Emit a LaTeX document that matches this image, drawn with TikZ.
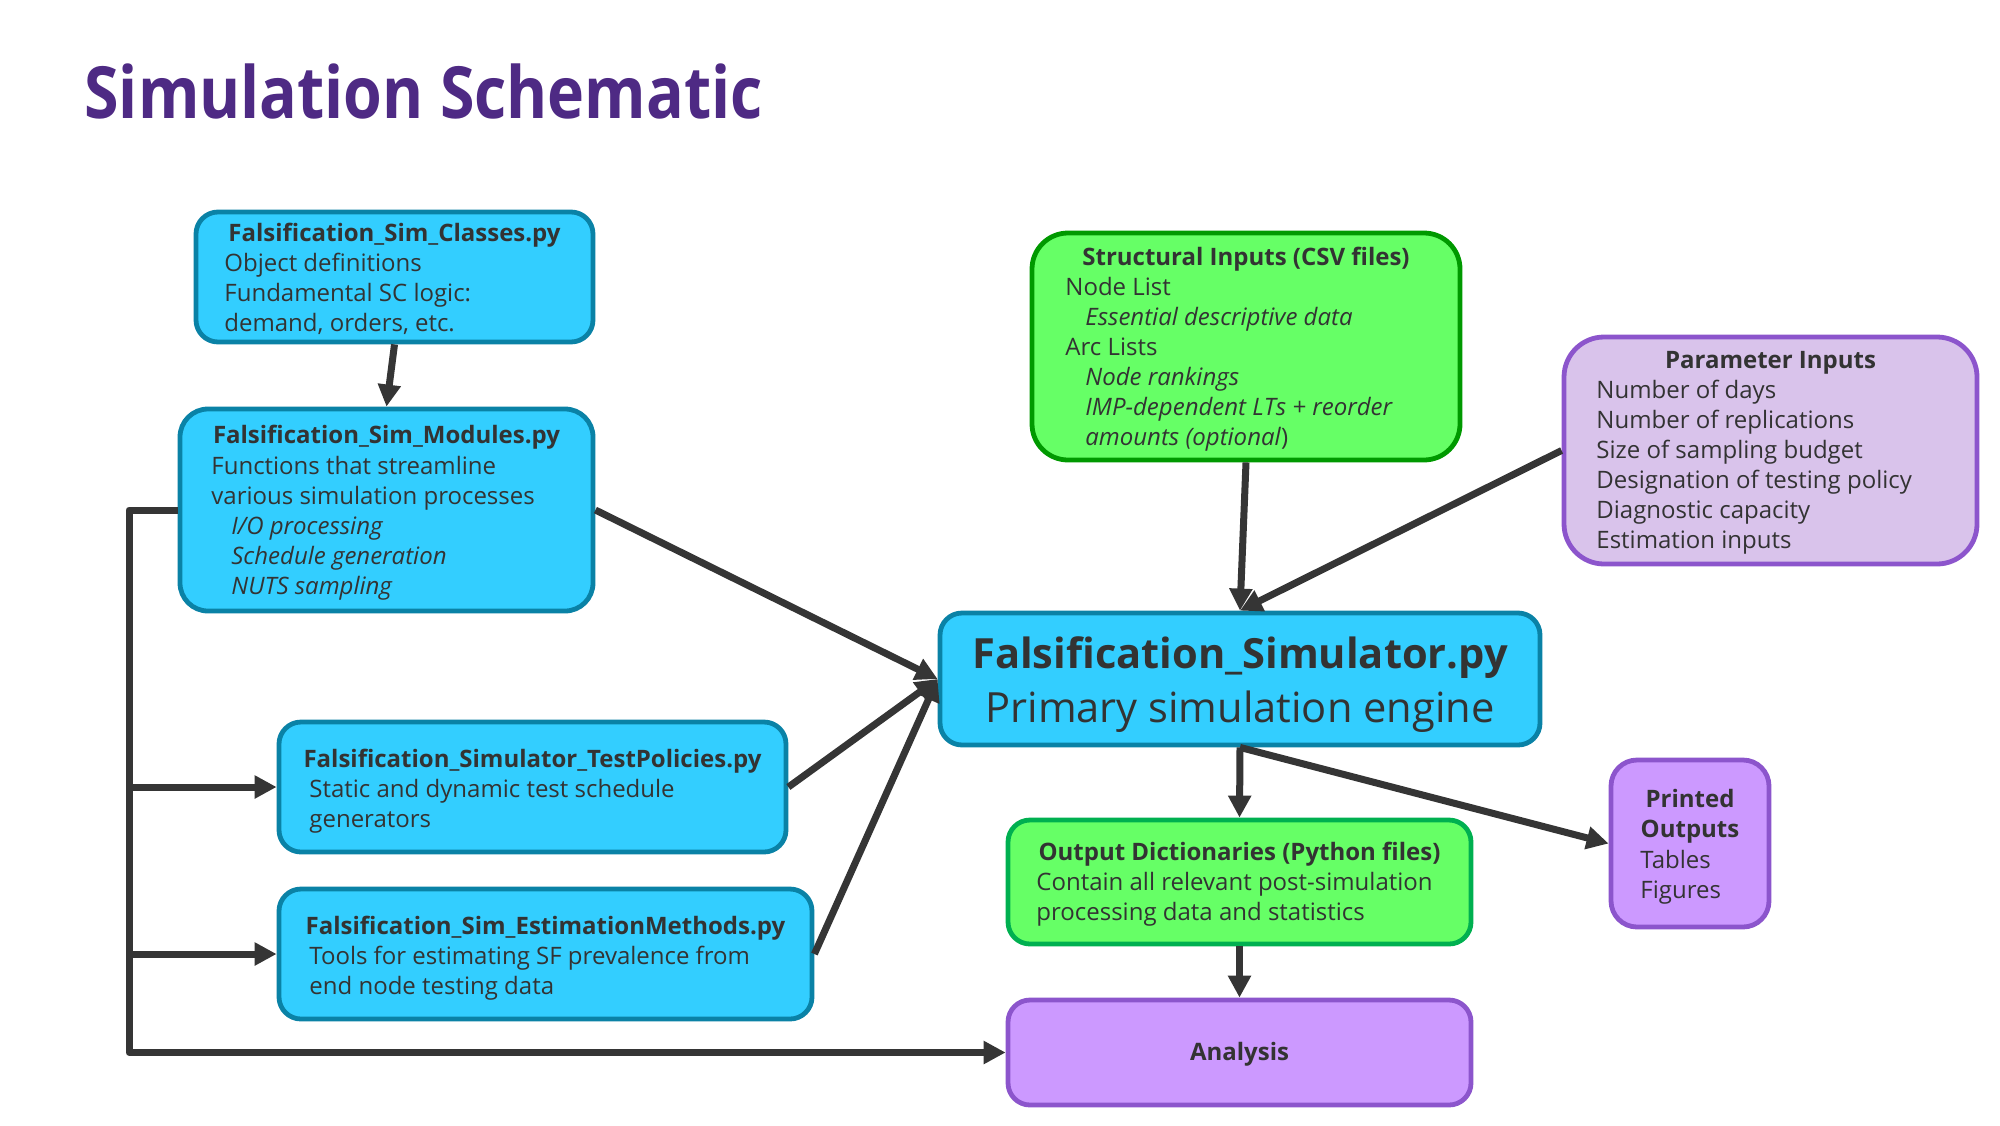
\documentclass[tikz,border=0pt]{standalone}
\usepackage{fontspec}
\setmainfont{Open Sans}
\usetikzlibrary{arrows.meta,fit}
\definecolor{txt}{HTML}{333333}
\definecolor{titlec}{HTML}{4E2A84}
\definecolor{cyanf}{HTML}{33CEFF}
\definecolor{cyand}{HTML}{0A82A6}
\definecolor{greenf}{HTML}{66FF66}
\definecolor{greend}{HTML}{009900}
\definecolor{greend2}{HTML}{00B050}
\definecolor{lavf}{HTML}{D9C3EB}
\definecolor{purd}{HTML}{8C55CC}
\definecolor{purf}{HTML}{CC99FF}
\definecolor{arrc}{HTML}{353535}
\newcommand{\bodyfnt}{\fontsize{12}{15}\selectfont}
\newcommand{\ttlfnt}{\fontsize{12}{15}\selectfont\bfseries}
\newcommand{\ind}{\hspace*{10pt}}
\tikzset{
  box/.style={draw, line width=2.4pt, inner sep=0pt, rounded corners=11pt},
  cyanbox/.style={box, fill=cyanf, draw=cyand},
  ttl/.style={anchor=base, inner sep=0pt, text=txt, font=\ttlfnt},
  bodytxt/.style={anchor=base west, inner sep=0pt, text=txt, font=\bodyfnt},
  arr/.style={draw=arrc, line width=3.5pt, line join=round, -{Triangle[length=11pt,width=11pt]}},
  lin/.style={draw=arrc, line width=3.5pt, line join=round}
}
\begin{document}
\begin{tikzpicture}[x=0.5pt,y=-0.5pt]
\useasboundingbox[fill=white] (0,0) rectangle (2000,1125);

% title
\node[anchor=base west, inner sep=0pt, text=titlec, font=\fontsize{36}{40}\selectfont\bfseries] (title) at (84,118) {\scalebox{0.87}[1]{Simulation Schematic}};

% boxes
\node[cyanbox, fit={(196,212) (593,342)}] (classes) {};
\node[cyanbox, rounded corners=14pt, fit={(180,409) (593,611)}] (modules) {};
\node[cyanbox, fit={(279,722) (786,852)}] (tests) {};
\node[cyanbox, fit={(279,889) (812,1019)}] (est) {};
\node[box, fill=greenf, draw=greend, rounded corners=18pt, fit={(1032,233) (1460,460)}] (struct) {};
\node[box, fill=lavf, draw=purd, rounded corners=20pt, fit={(1564,337) (1977,564)}] (param) {};
\node[cyanbox, fit={(940,613) (1540,745)}] (sim) {};
\node[box, fill=greenf, draw=greend2, fit={(1008,820) (1471,944)}] (outd) {};
\node[box, fill=purf, draw=purd, rounded corners=13pt, fit={(1611,760) (1769,927)}] (printed) {};
\node[box, fill=purf, draw=purd, fit={(1008,1000) (1471,1105)}] (analysis) {};

% texts
\node[ttl] (classes-t) at (394.5,241) {Falsification\_Sim\_Classes.py};
\node[bodytxt] (classes-b) at (224,271) {\begin{tabular}[t]{@{}l@{}}Object definitions\\Fundamental SC logic:\\demand, orders, etc.\end{tabular}};

\node[ttl] (modules-t) at (386.5,443) {Falsification\_Sim\_Modules.py};
\node[bodytxt] (modules-b) at (211,474) {\begin{tabular}[t]{@{}l@{}}Functions that streamline\\various simulation processes\\\ind\textit{I/O processing}\\\ind\textit{Schedule generation}\\\ind\textit{NUTS sampling}\end{tabular}};

\node[ttl] (tests-t) at (532.5,767) {Falsification\_Simulator\_TestPolicies.py};
\node[bodytxt] (tests-b) at (309,797) {\begin{tabular}[t]{@{}l@{}}Static and dynamic test schedule\\generators\end{tabular}};

\node[ttl] (est-t) at (545.5,934) {Falsification\_Sim\_EstimationMethods.py};
\node[bodytxt] (est-b) at (309,964) {\begin{tabular}[t]{@{}l@{}}Tools for estimating SF prevalence from\\end node testing data\end{tabular}};

\node[ttl] (struct-t) at (1246,265) {Structural Inputs (CSV files)};
\node[bodytxt] (struct-b) at (1065,295) {\begin{tabular}[t]{@{}l@{}}Node List\\\ind\textit{Essential descriptive data}\\Arc Lists\\\ind\textit{Node rankings}\\\ind\textit{IMP-dependent LTs + reorder}\\\ind\textit{amounts (optional})\end{tabular}};

\node[ttl] (param-t) at (1770.5,368) {Parameter Inputs};
\node[bodytxt] (param-b) at (1596,398) {\begin{tabular}[t]{@{}l@{}}Number of days\\Number of replications\\Size of sampling budget\\Designation of testing policy\\Diagnostic capacity\\Estimation inputs\end{tabular}};

\node[anchor=base, inner sep=0pt, text=txt, font=\fontsize{20.8}{24}\selectfont\bfseries] (sim-t) at (1240,668) {Falsification\_Simulator.py};
\node[anchor=base, inner sep=0pt, text=txt, font=\fontsize{20.8}{24}\selectfont] (sim-b) at (1240,722) {Primary simulation engine};

\node[ttl] (outd-t) at (1239.5,860) {Output Dictionaries (Python files)};
\node[bodytxt] (outd-b) at (1036,890) {\begin{tabular}[t]{@{}l@{}}Contain all relevant post-simulation\\processing data and statistics\end{tabular}};

\node[ttl] (printed-t1) at (1690,807) {Printed};
\node[ttl] (printed-t2) at (1690,837) {Outputs};
\node[bodytxt] (printed-b) at (1640,868) {\begin{tabular}[t]{@{}l@{}}Tables\\Figures\end{tabular}};

\node[anchor=base, inner sep=0pt, text=txt, font=\ttlfnt] (analysis-t) at (1239.5,1060) {Analysis};

% connectors
\coordinate (bustop) at (129,510);
\coordinate (busbot) at (129,1052.5);
\coordinate (bustest) at (129,787);
\coordinate (busest) at (129,954);
\draw[arr] (classes.south) -- (modules.north);
\draw[arr] (modules.west) -- (bustop) -- (busbot) -- (analysis.west);
\draw[arr] (bustest) -- (tests.west);
\draw[arr] (busest) -- (est.west);
\draw[arr] (modules.east) -- (sim.west);
\draw[arr] (tests.east) -- (sim.west);
\draw[arr] (est.east) -- (sim.west);
\draw[arr] (struct.south) -- (sim.north);
\draw[arr] (param.west) -- (sim.north);
\draw[arr] (sim.south) -- (outd.north);
\draw[arr] (sim.south) -- (printed.west);
\draw[arr] (outd.south) -- (analysis.north);
\end{tikzpicture}
\end{document}
